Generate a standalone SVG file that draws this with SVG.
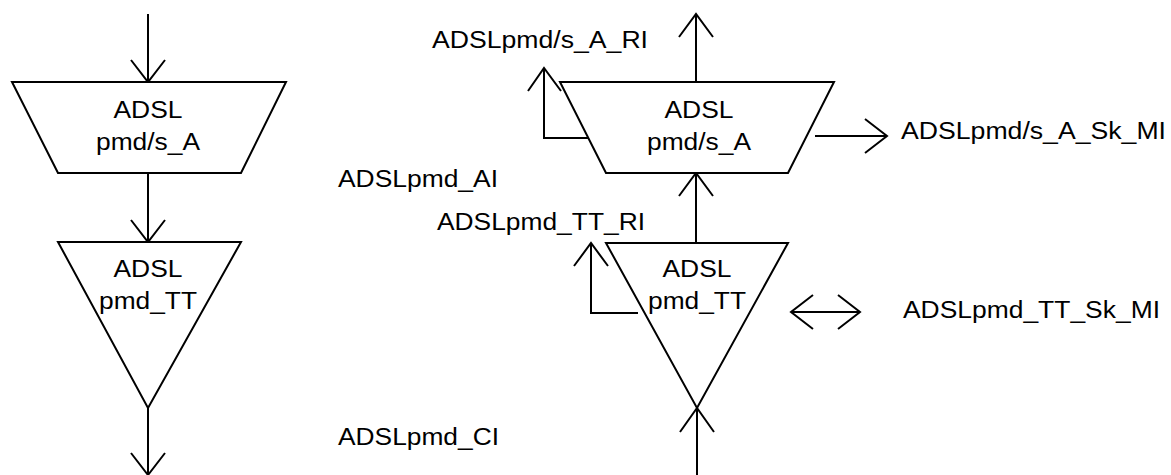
<svg xmlns="http://www.w3.org/2000/svg" width="1171" height="475" viewBox="0 0 1171 475">
<style>
.s{fill:#fff;stroke:#000;stroke-width:2}
.l{fill:none;stroke:#000;stroke-width:2}
text{font-family:"Liberation Sans",Arial,sans-serif;font-size:23px;fill:#000}
.c{text-anchor:middle}
</style>
<rect width="1171" height="475" fill="#fff"/>
<g id="connectors" class="l">
  <path d="M148 14V82M131 60L148 82L165 60"/>
  <path d="M148 173V242M131 220L148 242L165 220"/>
  <path d="M148 408V475M131 453L148 475L165 453"/>
  <path d="M696 82V14M679 37L696 14L713 37"/>
  <path d="M696 242V173M679 196L696 173L713 196"/>
  <path d="M697 475V408M680 432L697 408L714 432"/>
  <path d="M589 138H544V68M528 91L544 68L561 91"/>
  <path d="M638 313H591V243M574 266L591 243L608 266"/>
  <path d="M815 136H887M865 119L887 136L865 153"/>
  <path d="M791 312H860M813 295L791 312L813 329M838 295L860 312L838 329"/>
</g>
<g id="left_adaptation">
  <polygon class="s" points="12,82 286,82 241,173 58,173"/>
  <text class="c" x="148" y="118" textLength="69" lengthAdjust="spacingAndGlyphs">ADSL</text>
  <text class="c" x="148" y="150" textLength="104" lengthAdjust="spacingAndGlyphs">pmd/s_A</text>
</g>
<g id="left_termination">
  <polygon class="s" points="58,242 241,242 148,408"/>
  <text class="c" x="148" y="277" textLength="69" lengthAdjust="spacingAndGlyphs">ADSL</text>
  <text class="c" x="148" y="309" textLength="98" lengthAdjust="spacingAndGlyphs">pmd_TT</text>
</g>
<g id="right_adaptation">
  <polygon class="s" points="560,82 834,82 788,173 606,173"/>
  <text class="c" x="699" y="118" textLength="69" lengthAdjust="spacingAndGlyphs">ADSL</text>
  <text class="c" x="699" y="150" textLength="104" lengthAdjust="spacingAndGlyphs">pmd/s_A</text>
</g>
<g id="right_termination">
  <polygon class="s" points="606,243 788,243 697,408"/>
  <text class="c" x="697" y="277" textLength="69" lengthAdjust="spacingAndGlyphs">ADSL</text>
  <text class="c" x="697" y="309" textLength="98" lengthAdjust="spacingAndGlyphs">pmd_TT</text>
</g>
<g id="labels">
  <text x="432" y="48" textLength="216" lengthAdjust="spacingAndGlyphs">ADSLpmd/s_A_RI</text>
  <text x="338" y="187" textLength="160" lengthAdjust="spacingAndGlyphs">ADSLpmd_AI</text>
  <text x="437" y="230" textLength="208" lengthAdjust="spacingAndGlyphs">ADSLpmd_TT_RI</text>
  <text x="338" y="445" textLength="161" lengthAdjust="spacingAndGlyphs">ADSLpmd_CI</text>
  <text x="901" y="139" textLength="265" lengthAdjust="spacingAndGlyphs">ADSLpmd/s_A_Sk_MI</text>
  <text x="903" y="318" textLength="257" lengthAdjust="spacingAndGlyphs">ADSLpmd_TT_Sk_MI</text>
</g>
</svg>
